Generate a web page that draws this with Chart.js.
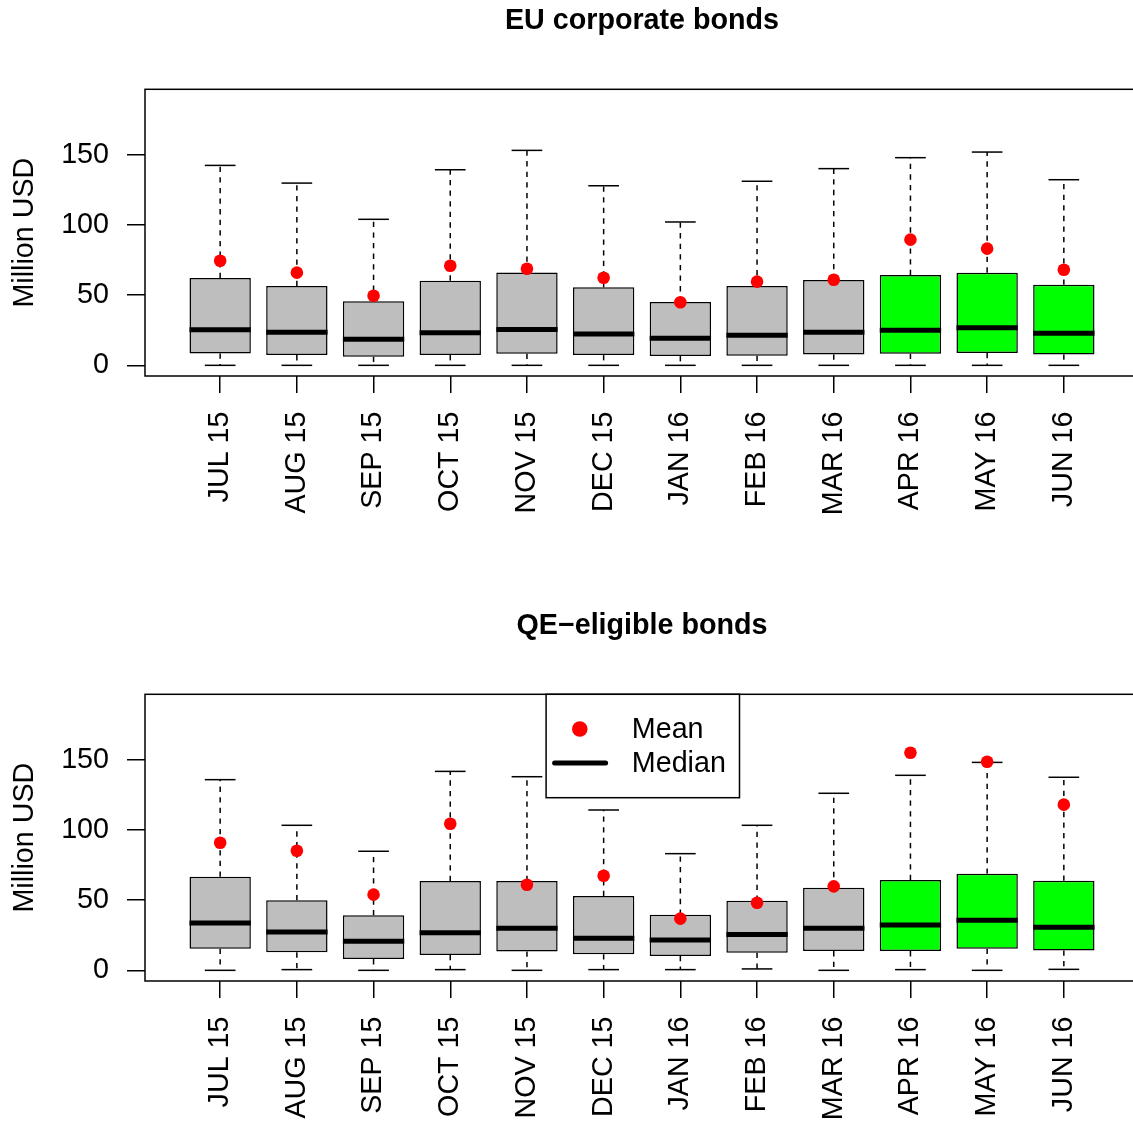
<!DOCTYPE html>
<html><head><meta charset="utf-8">
<script src="https://cdn.jsdelivr.net/npm/chart.js@4"></script>
<style>
html,body{margin:0;padding:0;background:#fff;overflow:hidden;width:1133px;height:1121px;position:relative;}
#c1{position:absolute;left:0;top:0;}
#c2{position:absolute;left:0;top:605px;}
</style></head><body>
<canvas id="c1" width="1139" height="605"></canvas>
<canvas id="c2" width="1139" height="516"></canvas>
<script>
// ---------- DATA ----------
const categories = ['JUL 15','AUG 15','SEP 15','OCT 15','NOV 15','DEC 15','JAN 16','FEB 16','MAR 16','APR 16','MAY 16','JUN 16'];
const yTickValues = [0, 50, 100, 150];

// EU corporate bonds
const euLow    = [0, 0, 0, 0, 0, 0, 0, 0, 0, 0, 0, 0];
const euQ1     = [8.5, 7.3, 6.1, 7.3, 8.3, 7.3, 6.6, 6.8, 7.8, 8.3, 8.8, 7.8];
const euMedian = [25.4, 23.5, 18.5, 23.2, 25.6, 22.3, 19.2, 21.4, 23.5, 24.9, 26.8, 22.8];
const euQ3     = [62.2, 56.5, 45.6, 60.3, 66.2, 55.6, 45.1, 56.5, 60.8, 64.3, 66.0, 57.4];
const euHigh   = [142.4, 129.8, 104.0, 139.3, 153.1, 127.9, 102.1, 131.1, 140.1, 147.9, 151.9, 132.2];
const euMean   = [74.5, 66.0, 49.6, 70.9, 68.8, 62.4, 44.9, 59.6, 61.0, 89.5, 83.1, 68.1];

// QE-eligible bonds
const qeLow    = [0, 0.5, 0, 0.5, 0, 0.5, 0.5, 1.0, 0, 0.5, 0, 0.7];
const qeQ1     = [15.4, 12.8, 8.0, 10.9, 13.5, 11.4, 10.2, 12.5, 13.7, 13.7, 15.4, 14.2];
const qeMedian = [33.7, 27.3, 20.7, 26.8, 29.9, 22.8, 21.6, 25.6, 29.9, 32.3, 35.6, 30.6];
const qeQ3     = [66.7, 49.9, 39.2, 63.6, 63.6, 52.9, 39.6, 49.6, 58.8, 64.3, 68.8, 63.8];
const qeHigh   = [135.8, 103.3, 84.8, 141.7, 137.9, 114.2, 83.1, 103.3, 126.1, 138.9, 148.1, 137.5];
const qeMean   = [90.9, 85.2, 53.9, 104.4, 61.0, 67.4, 36.8, 48.1, 59.8, 155.0, 148.6, 118.0];

// ---------- STYLE ----------
const FONT = '"Liberation Sans", Arial, Helvetica, sans-serif';
const FS = 28.7;
const GREY = '#BEBEBE', GREEN = '#00FF00', RED = '#FF0000';
const boxColors = categories.map((c, i) => i >= 9 ? GREEN : GREY);

const boxExtras = {
  id: 'boxExtras',
  afterDatasetDraw(chart, args, opts) {
    if (args.index !== 0 || !opts.stats) return;
    const st = opts.stats;
    const {ctx} = chart;
    const x = chart.scales.x, y = chart.scales.y;
    const meta = chart.getDatasetMeta(0);
    const seg = (x1, y1, x2, y2) => { ctx.beginPath(); ctx.moveTo(x1, y1); ctx.lineTo(x2, y2); ctx.stroke(); };
    ctx.save();
    ctx.strokeStyle = '#000';
    st.median.forEach((m, i) => {
      const half = meta.data[i].width / 2;
      const cx = x.getPixelForValue(i + 1);
      const yq1 = y.getPixelForValue(st.q1[i]), yq3 = y.getPixelForValue(st.q3[i]);
      const yl = y.getPixelForValue(st.low[i]), yh = y.getPixelForValue(st.high[i]);
      ctx.lineWidth = 1.5; ctx.lineCap = 'butt';
      ctx.setLineDash([5.3, 5.3]);
      seg(cx, yq3, cx, yh);
      seg(cx, yq1, cx, yl);
      ctx.setLineDash([]);
      seg(cx - half / 2, yh, cx + half / 2, yh);
      seg(cx - half / 2, yl, cx + half / 2, yl);
      ctx.lineWidth = 5;
      const ym = y.getPixelForValue(m);
      seg(cx - half, ym, cx + half, ym);
    });
    ctx.restore();
  },
  afterDraw(chart) {
    const {ctx, chartArea: ca} = chart;
    ctx.save();
    ctx.strokeStyle = '#000'; ctx.lineWidth = 1.5;
    ctx.strokeRect(ca.left, ca.top, ca.right - ca.left, ca.bottom - ca.top);
    ctx.restore();
  }
};

const rLegend = {
  id: 'rLegend',
  afterDraw(chart, args, opts) {
    if (!opts.show) return;
    const {ctx, chartArea: ca} = chart;
    const cx = (ca.left + ca.right) / 2;
    const w = 193.4, h = 103.4;
    const L = cx - w / 2 + 0.8, T = ca.top;
    ctx.save();
    ctx.fillStyle = '#fff';
    ctx.fillRect(L, T, w, h);
    ctx.strokeStyle = '#000'; ctx.lineWidth = 1.5;
    ctx.strokeRect(L, T, w, h);
    ctx.fillStyle = RED;
    ctx.beginPath(); ctx.arc(L + 33.7, T + 34.7, 7.8, 0, Math.PI * 2); ctx.fill();
    ctx.lineWidth = 5; ctx.lineCap = 'round';
    ctx.beginPath(); ctx.moveTo(L + 8.5, T + 68.7); ctx.lineTo(L + 59.5, T + 68.7); ctx.stroke();
    ctx.fillStyle = '#000';
    ctx.font = FS + 'px ' + FONT;
    ctx.textAlign = 'left'; ctx.textBaseline = 'middle';
    ctx.fillText('Mean', L + 85.7, T + 35.5);
    ctx.fillText('Median', L + 85.7, T + 69.5);
    ctx.restore();
  }
};

function makeChart(canvasId, title, low, q1, med, q3, high, mean, xAxisHeight, showLegend) {
  const font = {family: FONT, size: FS};
  return new Chart(document.getElementById(canvasId), {
    type: 'bar',
    data: {
      datasets: [
        {
          type: 'bar', order: 2,
          data: categories.map((c, i) => ({x: i + 1, y: [q1[i], q3[i]]})),
          backgroundColor: boxColors, borderColor: '#000', borderWidth: 1.5,
          borderSkipped: false, barPercentage: 0.8, categoryPercentage: 1.0
        },
        {
          type: 'scatter', order: 1,
          data: categories.map((c, i) => ({x: i + 1, y: mean[i]})),
          pointRadius: 6.3, pointBackgroundColor: RED, pointBorderWidth: 0,
          showLine: false
        }
      ]
    },
    options: {
      responsive: false, animation: false, events: [],
      layout: {autoPadding: false, padding: {left: 0, right: 0, top: 0, bottom: 0}},
      plugins: {
        legend: {display: false}, tooltip: {enabled: false},
        title: {display: true, fullSize: false, text: title, color: '#000',
                font: {family: FONT, size: FS, weight: 'bold', lineHeight: 1.2},
                padding: {top: 3.6, bottom: 51.26}},
        boxExtras: {stats: {low, q1, median: med, q3, high}},
        rLegend: {show: showLegend}
      },
      scales: {
        x: {
          type: 'linear', min: 0.02, max: 12.98, offset: false, bounds: 'data',
          afterBuildTicks: s => { s.ticks = categories.map((c, i) => ({value: i + 1})); },
          afterFit: s => { s.height = xAxisHeight; },
          ticks: {callback: v => categories[Math.round(v) - 1], autoSkip: false,
                  minRotation: 90, maxRotation: 90, padding: 18.5, font, color: '#000'},
          grid: {display: true, drawOnChartArea: false, drawTicks: true, tickLength: 17,
                 color: '#000', tickColor: '#000', lineWidth: 1.5, offset: false},
          border: {display: false}
        },
        y: {
          type: 'linear', min: -7.6, max: 196.6,
          afterBuildTicks: s => { s.ticks = yTickValues.map(v => ({value: v})); },
          afterFit: s => { s.width = 145; },
          ticks: {padding: 18, font, color: '#000', callback: v => String(v)},
          grid: {display: true, drawOnChartArea: false, drawTicks: true, tickLength: 18,
                 color: '#000', tickColor: '#000', lineWidth: 1.5},
          border: {display: false},
          title: {display: true, text: 'Million USD', color: '#000',
                  font: {family: FONT, size: FS, lineHeight: 1.2}, padding: {top: 7.5, bottom: 0}}
        }
      }
    },
    plugins: [boxExtras, rLegend]
  });
}

makeChart('c1', 'EU corporate bonds', euLow, euQ1, euMedian, euQ3, euHigh, euMean, 229, false);
makeChart('c2', 'QE\u2212eligible bonds', qeLow, qeQ1, qeMedian, qeQ3, qeHigh, qeMean, 140, true);
</script>
</body></html>
